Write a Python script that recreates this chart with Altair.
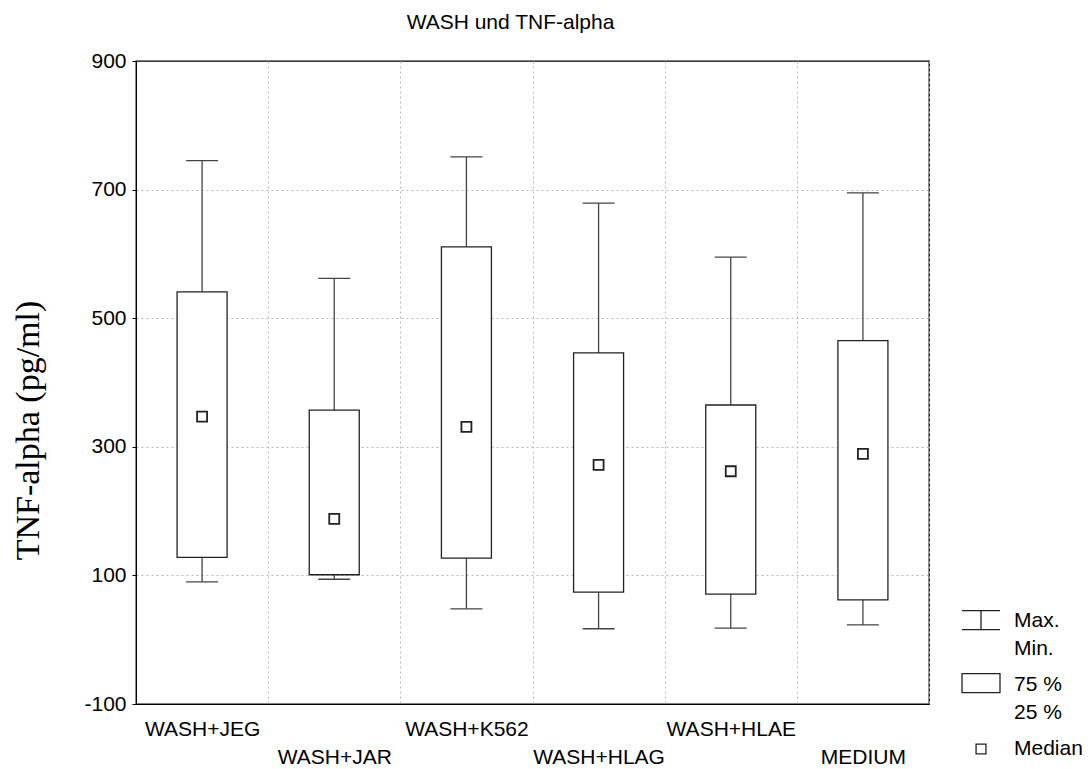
import json
import altair as alt
import pandas as pd

# ---- data ----
groups = ["WASH+JEG", "WASH+JAR", "WASH+K562", "WASH+HLAG", "WASH+HLAE", "MEDIUM"]
mins = [90, 94, 48, 17, 18, 23]
q1s = [128, 101, 127, 74, 71, 62]
medians = [347, 188, 331, 272, 262, 289]
q3s = [541, 357, 611, 446, 365, 465]
maxs = [745, 562, 751, 679, 595, 695]
y_ticks = [-100, 100, 300, 500, 700, 900]
legend_items = ["Max.|Min.", "75 %|25 %", "Median"]

df = pd.DataFrame({"group": groups, "lo": mins, "q1": q1s, "med": medians,
                   "q3": q3s, "hi": maxs})
leg_df = pd.DataFrame({"item": legend_items})

SANS = "Liberation Sans"
SERIF = "Liberation Serif"
INK = "#222222"
GRID = "#b8b8b8"

odd_groups = json.dumps(groups[1::2])
x_label_expr = ("indexof(" + odd_groups + ", datum.value) >= 0 ? "
                "['\u00a0', datum.label] : datum.label")

x_enc = alt.X(
    "group:N", sort=groups,
    scale=alt.Scale(paddingInner=0, paddingOuter=0),
    axis=alt.Axis(
        title=None, labelAngle=0, tickBand="extent", grid=True,
        gridColor=GRID, gridDash=[2, 3], gridWidth=1,
        gridOpacity={"condition": {"test": "datum.extra", "value": 0},
                     "value": 1},
        ticks=False, tickSize=0, labelPadding=14,
        labelFont=SANS, labelFontSize=21, labelColor="black",
        labelBaseline="top", labelLineHeight=28, labelExpr=x_label_expr,
        domainColor="black", labelOverlap=False, labelLimit=300,
    ),
)

y_scale = alt.Scale(domain=[-100, 900], nice=False, zero=False)
y_axis = alt.Axis(
    values=y_ticks, grid=True, gridColor=GRID, gridDash=[2, 3],
    gridOpacity={"condition": {"test": "datum.value >= 900 || datum.value <= -100",
                               "value": 0}, "value": 1},
    tickSize=4, tickColor="black", labelPadding=6,
    labelFont=SANS, labelFontSize=21, labelColor="black",
    labelExpr="datum.value + ''",
    domainColor="black",
    title="TNF-alpha (pg/ml)", titleFont=SERIF, titleFontSize=34,
    titleFontWeight="normal", titleColor="black", titleAngle=270,
    titleX=-108, titleY=369, titleAlign="center", titleBaseline="middle",
)

base = alt.Chart(df)

whisker = base.mark_rule(color="#444444", strokeWidth=1.3).encode(
    x=x_enc,
    y=alt.Y("lo:Q", scale=y_scale, axis=y_axis),
    y2="hi:Q",
)
cap_lo = base.mark_tick(orient="horizontal", size=32, thickness=1.3,
                        color="#444444", opacity=1).encode(
    x=x_enc, y=alt.Y("lo:Q", scale=y_scale))
cap_hi = base.mark_tick(orient="horizontal", size=32, thickness=1.3,
                        color="#444444", opacity=1).encode(
    x=x_enc, y=alt.Y("hi:Q", scale=y_scale))
box = base.mark_bar(size=50, fill="white", stroke=INK,
                    strokeWidth=1.3).encode(
    x=x_enc, y=alt.Y("q1:Q", scale=y_scale), y2="q3:Q")
median = base.mark_point(shape="square", size=100, filled=True,
                         fill="white", stroke=INK, strokeWidth=1.8,
                         opacity=1).encode(
    x=x_enc, y=alt.Y("med:Q", scale=y_scale))

sym_paths = [
    "M-1,-0.55H1M0,-0.55V0.45M-1,0.45H1",
    "M-1,-0.6H1V0.4H-1Z",
    "M-0.26,-0.26H0.26V0.26H-0.26Z",
]

legend_layer = alt.Chart(leg_df).mark_point(
    opacity=0, filled=False, color=INK, strokeWidth=1.3
).encode(
    x=alt.value(0), y=alt.value(0),
    shape=alt.Shape(
        "item:N",
        scale=alt.Scale(domain=legend_items, range=sym_paths),
        legend=alt.Legend(
            title=None, orient="none", legendX=825, legendY=540,
            padding=0, symbolSize=1444, symbolOpacity=1,
            symbolStrokeColor=INK, symbolStrokeWidth=1.3,
            labelFont=SANS, labelFontSize=21,
            labelColor="black", labelOffset=13, labelLimit=300,
            labelExpr="split(datum.label, '|')", rowPadding=6,
        ),
    ),
)

chart = alt.layer(whisker, box, cap_lo, cap_hi, median, legend_layer).properties(
    width=793, height=643,
    padding={"left": 128, "top": 53, "right": 154, "bottom": 66},
    autosize=alt.AutoSizeParams(type="none"),
    title=alt.TitleParams(
        "WASH und TNF-alpha", font=SANS, fontSize=21, fontWeight="normal",
        color="black", anchor="middle", frame="group", dx=-22,
        baseline="alphabetic", offset=0,
    ),
).configure(
    background="white",
    style={"guide-label": {"lineHeight": 28}},
    view=alt.ViewConfig(stroke="black", strokeWidth=1.3),
)

chart.save("out.html", embed_options={"renderer": "svg", "actions": False})
